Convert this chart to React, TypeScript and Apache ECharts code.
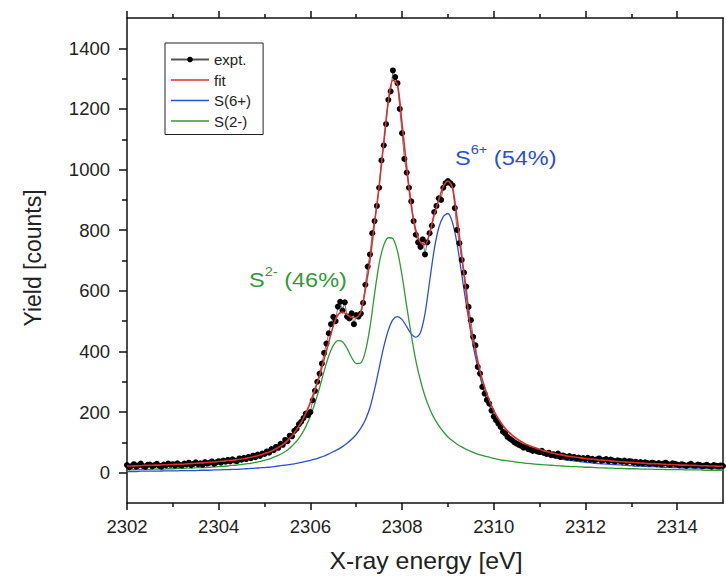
import React, { useEffect, useRef } from "react";
import * as echarts from "echarts";

const FONT = "Arial, 'Liberation Sans', Helvetica, sans-serif";

// Axis ranges and tick positions
const xRange = [2302, 2315];
const yRange = [-100, 1500];
const xMajorTicks = [2302, 2304, 2306, 2308, 2310, 2312, 2314];
const xMinorTicks = [2303, 2305, 2307, 2309, 2311, 2313];
const yMajorTicks = [0, 200, 400, 600, 800, 1000, 1200, 1400];
const yMinorTicks = [100, 300, 500, 700, 900, 1100, 1300];

const seriesNames = ["expt.", "fit", "S(6+)", "S(2-)"];

// Experimental points: energies start at 2302 eV, one point every 0.05 eV
const exptStart = 2302;
const exptStep = 0.05;
const exptCounts = [
  // 2302.00 - 2302.95
  25, 18, 22, 28, 20, 24, 30, 22, 19, 26, 27, 21, 25, 29, 23, 20, 27, 24, 30, 26,
  // 2303
  28, 23, 31, 26, 24, 30, 27, 33, 25, 29, 34, 28, 31, 26, 35, 30, 33, 37, 29, 34,
  // 2304
  38, 33, 40, 36, 42, 37, 44, 40, 38, 47, 43, 49, 45, 52, 48, 56, 51, 60, 55, 63,
  // 2305
  62, 70, 66, 78, 74, 85, 82, 95, 92, 108, 104, 122, 120, 138, 145, 160, 168, 180, 195, 190,
  // 2306
  200, 239, 270, 300, 327, 360, 395, 426, 460, 490, 514, 500, 548, 564, 535, 562, 515, 509, 526, 490,
  // 2307
  520, 515, 525, 560, 620, 680, 720, 790, 830, 880, 940, 1030, 1080, 1150, 1230, 1258, 1327, 1305, 1285, 1200,
  // 2308
  1120, 1035, 990, 940, 895, 830, 785, 760, 745, 770, 720, 760, 790, 815, 860, 880, 905, 900, 940, 955,
  // 2309
  962, 955, 948, 873, 801, 757, 702, 660, 614, 547, 503, 448, 420, 349, 327, 283, 261, 240, 228, 205,
  // 2310
  185, 173, 162, 151, 135, 129, 118, 112, 107, 100, 96, 92, 88, 83, 85, 78, 76, 72, 74, 70,
  // 2311
  68, 72, 65, 62, 66, 58, 61, 56, 63, 52, 57, 54, 50, 55, 49, 52, 47, 50, 46, 48,
  // 2312
  45, 49, 43, 46, 41, 44, 47, 40, 42, 45, 38, 43, 40, 37, 41, 39, 36, 40, 35, 38,
  // 2313
  37, 33, 36, 31, 35, 30, 34, 32, 29, 33, 31, 28, 32, 27, 30, 33, 28, 26, 31, 29,
  // 2314
  27, 24, 28, 25, 22, 26, 29, 24, 23, 27, 25, 21, 24, 26, 22, 20, 25, 23, 21, 24,
  // 2315
  22,
];

// Fit and components: energies start at 2302 eV, one value every 0.1 eV
const modelStart = 2302;
const modelStep = 0.1;
const fitCounts = [
  22, 22, 23, 23, 24, 24, 25, 25, 26, 26,
  27, 28, 28, 29, 30, 31, 32, 33, 34, 35,
  37, 38, 40, 41, 43, 45, 48, 51, 54, 58,
  63, 68, 75, 83, 93, 106, 122, 142, 166, 196,
  232, 275, 320, 375, 430, 485, 520, 530, 522, 512,
  512, 530, 605, 700, 825, 945, 1090, 1225, 1295, 1280,
  1150, 1010, 880, 800, 760, 752, 790, 850, 900, 945,
  962, 940, 840, 720, 590, 470, 405, 335, 282, 240,
  205, 178, 156, 138, 124, 112, 102, 94, 88, 82,
  77, 72, 68, 64, 61, 58, 55, 53, 51, 49,
  47, 45, 44, 42, 41, 40, 38, 37, 36, 35,
  34, 33, 32, 31, 30, 30, 29, 28, 27, 27,
  26, 25, 25, 24, 24, 23, 23, 22, 22, 21,
  21,
];
const s6Counts = [
  4, 4, 4, 5, 5, 5, 5, 5, 6, 6,
  6, 6, 7, 7, 7, 7, 8, 8, 8, 9,
  9, 10, 10, 11, 11, 12, 13, 14, 15, 16,
  17, 18, 20, 22, 24, 26, 28, 31, 34, 37,
  41, 45, 50, 55, 62, 69, 77, 86, 97, 110,
  126, 147, 175, 215, 275, 345, 415, 470, 505, 515,
  505, 482, 458, 447, 462, 525, 630, 735, 808, 845,
  855, 825, 755, 655, 555, 462, 382, 318, 265, 223,
  190, 163, 142, 125, 111, 99, 89, 81, 74, 68,
  63, 58, 54, 50, 47, 44, 42, 40, 38, 36,
  34, 33, 31, 30, 29, 28, 27, 26, 25, 24,
  23, 22, 22, 21, 20, 20, 19, 18, 18, 17,
  17, 16, 16, 16, 15, 15, 14, 14, 14, 13,
  13,
];
const s2Counts = [
  10, 10, 10, 11, 11, 11, 12, 12, 12, 13,
  13, 14, 14, 15, 15, 16, 17, 17, 18, 19,
  20, 21, 22, 24, 25, 27, 29, 31, 34, 37,
  41, 45, 51, 57, 65, 75, 88, 104, 125, 152,
  187, 230, 280, 335, 385, 420, 436, 432, 410, 380,
  360, 362, 400, 480, 590, 690, 750, 775, 772, 730,
  650, 550, 455, 370, 305, 252, 212, 180, 155, 135,
  118, 105, 94, 85, 77, 70, 64, 59, 55, 51,
  47, 44, 41, 39, 37, 35, 33, 31, 30, 28,
  27, 26, 25, 24, 23, 22, 21, 20, 20, 19,
  18, 18, 17, 16, 16, 15, 15, 14, 14, 13,
  13, 13, 12, 12, 12, 11, 11, 11, 10, 10,
  10, 10, 9, 9, 9, 9, 8, 8, 8, 8,
  8,
];

const toPairs = (start: number, step: number, vals: number[]) =>
  vals.map((v, i) => [Number((start + i * step).toFixed(2)), v]);

const BLACK = "#111";
const RED = "#d8302e";
const BLUE = "#2b4fd4";
const GREEN = "#2f9a36";
const LABEL = "#222";
const LINE_ICON = "path://M0,0H38V1.4H0Z";

export default function App() {
  const ref = useRef<HTMLDivElement>(null);

  useEffect(() => {
    if (!ref.current) return;
    const chart = echarts.init(ref.current, undefined, { renderer: "svg" });
    const axisLineStyle = { color: BLACK, width: 1.5 };
    const tickStyle = { color: BLACK, width: 1.5 };
    const labelStyle = { fontSize: 18.5, color: LABEL, fontFamily: FONT, formatter: (v: number) => String(v) };

    const option: any = {
      animation: false,
      backgroundColor: "#fff",
      grid: { left: 127, right: 3, top: 18, bottom: 73, containLabel: false },
      legend: {
        orient: "vertical",
        left: 165,
        top: 43,
        data: [
          { name: seriesNames[0] },
          { name: seriesNames[1], icon: LINE_ICON },
          { name: seriesNames[2], icon: LINE_ICON },
          { name: seriesNames[3], icon: LINE_ICON },
        ],
        itemWidth: 38,
        itemHeight: 7,
        itemGap: 5.5,
        padding: [9, 12, 6, 5],
        borderColor: "#222",
        borderWidth: 1,
        backgroundColor: "#fff",
        selectedMode: false,
        textStyle: { fontSize: 15, fontFamily: FONT, color: LABEL },
      },
      xAxis: [
        {
          type: "value", min: xRange[0], max: xRange[1], position: "bottom",
          axisLine: { show: true, onZero: false, lineStyle: axisLineStyle },
          axisTick: { show: true, inside: false, length: 7, customValues: xMajorTicks, lineStyle: tickStyle },
          axisLabel: { show: true, customValues: xMajorTicks, margin: 14, ...labelStyle },
          splitLine: { show: false },
        },
        {
          type: "value", min: xRange[0], max: xRange[1], position: "bottom",
          axisLine: { show: false, onZero: false },
          axisTick: { show: true, inside: false, length: 4, customValues: xMinorTicks, lineStyle: tickStyle },
          axisLabel: { show: false },
          splitLine: { show: false },
        },
        {
          type: "value", min: xRange[0], max: xRange[1], position: "top",
          axisLine: { show: true, onZero: false, lineStyle: axisLineStyle },
          axisTick: { show: true, inside: false, length: 7, customValues: xMajorTicks, lineStyle: tickStyle },
          axisLabel: { show: false },
          splitLine: { show: false },
        },
        {
          type: "value", min: xRange[0], max: xRange[1], position: "top",
          axisLine: { show: false, onZero: false },
          axisTick: { show: true, inside: false, length: 4, customValues: xMinorTicks, lineStyle: tickStyle },
          axisLabel: { show: false },
          splitLine: { show: false },
        },
      ],
      yAxis: [
        {
          type: "value", min: yRange[0], max: yRange[1], position: "left",
          axisLine: { show: true, onZero: false, lineStyle: axisLineStyle },
          axisTick: { show: true, inside: false, length: 8, customValues: yMajorTicks, lineStyle: tickStyle },
          axisLabel: { show: true, customValues: yMajorTicks, margin: 17, ...labelStyle },
          splitLine: { show: false },
        },
        {
          type: "value", min: yRange[0], max: yRange[1], position: "left",
          axisLine: { show: false, onZero: false },
          axisTick: { show: true, inside: false, length: 5, customValues: yMinorTicks, lineStyle: tickStyle },
          axisLabel: { show: false },
          splitLine: { show: false },
        },
        {
          type: "value", min: yRange[0], max: yRange[1], position: "right",
          axisLine: { show: true, onZero: false, lineStyle: axisLineStyle },
          axisTick: { show: false },
          axisLabel: { show: false },
          splitLine: { show: false },
        },
      ],
      series: [
        {
          name: seriesNames[0], type: "line", xAxisIndex: 0, yAxisIndex: 0,
          data: toPairs(exptStart, exptStep, exptCounts),
          symbol: "circle", symbolSize: 6, showSymbol: true, showAllSymbol: true,
          itemStyle: { color: "#000" },
          lineStyle: { color: "#555", width: 0.8 },
          z: 2,
        },
        {
          name: seriesNames[1], type: "line", xAxisIndex: 0, yAxisIndex: 0,
          data: toPairs(modelStart, modelStep, fitCounts),
          symbol: "none", smooth: 0.3,
          itemStyle: { color: RED },
          lineStyle: { color: RED, width: 1.6 },
          z: 3,
        },
        {
          name: seriesNames[2], type: "line", xAxisIndex: 0, yAxisIndex: 0,
          data: toPairs(modelStart, modelStep, s6Counts),
          symbol: "none", smooth: 0.3,
          itemStyle: { color: BLUE },
          lineStyle: { color: BLUE, width: 1.3 },
          z: 1,
        },
        {
          name: seriesNames[3], type: "line", xAxisIndex: 0, yAxisIndex: 0,
          data: toPairs(modelStart, modelStep, s2Counts),
          symbol: "none", smooth: 0.3,
          itemStyle: { color: GREEN },
          lineStyle: { color: GREEN, width: 1.3 },
          z: 1,
        },
      ],
      graphic: [
        {
          type: "text", x: 426, y: 561, scaleX: 1.08,
          style: {
            text: "X-ray energy [eV]", fontSize: 23, fontFamily: FONT, fill: LABEL,
            align: "center", verticalAlign: "middle", textAlign: "center", textVerticalAlign: "middle",
          },
        },
        {
          type: "text", x: 33, y: 258, rotation: Math.PI / 2,
          style: {
            text: "Yield [counts]", fontSize: 23, fontFamily: FONT, fill: LABEL,
            align: "center", verticalAlign: "middle", textAlign: "center", textVerticalAlign: "middle",
          },
        },
        {
          type: "text", x: 455, y: 143, scaleX: 1.12,
          style: {
            text: "{a|S}{b|6+}{a| (54%)}",
            fill: BLUE, fontSize: 21, fontFamily: FONT,
            align: "left", verticalAlign: "top",
            rich: {
              a: { fontSize: 21, lineHeight: 25, verticalAlign: "bottom", fill: BLUE, fontFamily: FONT },
              b: { fontSize: 13, lineHeight: 13, verticalAlign: "top", fill: BLUE, fontFamily: FONT },
            },
          },
        },
        {
          type: "text", x: 249, y: 265, scaleX: 1.12,
          style: {
            text: "{a|S}{b|2-}{a| (46%)}",
            fill: GREEN, fontSize: 21, fontFamily: FONT,
            align: "left", verticalAlign: "top",
            rich: {
              a: { fontSize: 21, lineHeight: 25, verticalAlign: "bottom", fill: GREEN, fontFamily: FONT },
              b: { fontSize: 13, lineHeight: 13, verticalAlign: "top", fill: GREEN, fontFamily: FONT },
            },
          },
        },
      ],
    };
    chart.setOption(option);
    return () => chart.dispose();
  }, []);

  return (
    <div
      ref={ref}
      style={{ position: "fixed", left: 0, top: 0, width: 726, height: 576, background: "#fff" }}
    />
  );
}
